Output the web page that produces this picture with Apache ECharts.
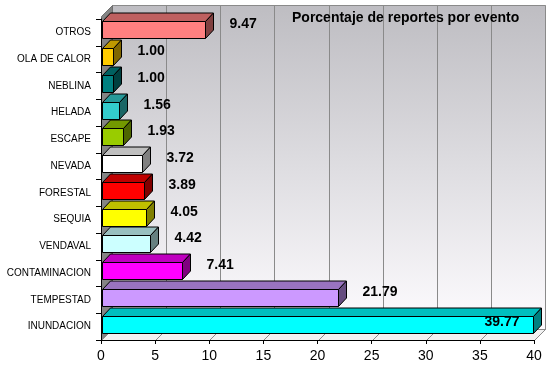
<!DOCTYPE html>
<html><head><meta charset="utf-8">
<script src="https://cdn.jsdelivr.net/npm/echarts@6/dist/echarts.min.js"></script>
<style>html,body{margin:0;padding:0;background:#fff}#c{width:550px;height:372px}</style>
</head><body><div id="c"></div>
<script>
const categories = ['OTROS','OLA DE CALOR','NEBLINA','HELADA','ESCAPE','NEVADA','FORESTAL','SEQUIA','VENDAVAL','CONTAMINACION','TEMPESTAD','INUNDACION'];
const values = [9.47, 1.00, 1.00, 1.56, 1.93, 3.72, 3.89, 4.05, 4.42, 7.41, 21.79, 39.77];
const valueLabels = ['9.47','1.00','1.00','1.56','1.93','3.72','3.89','4.05','4.42','7.41','21.79','39.77'];
const xTicks = [0, 5, 10, 15, 20, 25, 30, 35, 40];
const titleText = 'Porcentaje de reportes por evento';

const barColors = ['#ff8080','#ffcc00','#008080','#33cccc','#99cc00','#ffffff','#ff0000','#ffff00','#ccffff','#ff00ff','#cc99ff','#00ffff'];

function shade(hex, f) {
  const n = parseInt(hex.slice(1), 16);
  const r = Math.round(((n >> 16) & 255) * f), g = Math.round(((n >> 8) & 255) * f), b = Math.round((n & 255) * f);
  return 'rgb(' + r + ',' + g + ',' + b + ')';
}
const px = v => Math.round(v) + 0.5;
const WD = [11, -11];   // wall depth
const BD = [8, -8.5];   // bar depth

const chart = echarts.init(document.getElementById('c'), null, {renderer: 'canvas'});

function frameItem(params, api) {
  const band = api.size([0, 1])[1];
  const xL = px(api.coord([xTicks[0], 0])[0]);
  const xR = px(api.coord([xTicks[xTicks.length - 1], 0])[0]);
  const yT = Math.round(api.coord([0, 0])[1] - band / 2) - 3 + 0.5;
  const yB = px(api.coord([0, categories.length - 1])[1] + band / 2);
  const dx = WD[0], dy = WD[1];
  const children = [];
  children.push({type: 'polygon', shape: {points: [[xL + dx, yT + dy], [xR + dx, yT + dy], [xR + dx, yB + dy], [xL + dx, yB + dy]]},
    style: {fill: new echarts.graphic.LinearGradient(0, 0, 0, 1, [{offset: 0, color: '#bebdc2'}, {offset: 0.5, color: '#dedde1'}, {offset: 1, color: '#fefcff'}]), stroke: '#8a8a8a', lineWidth: 1}});
  children.push({type: 'polygon', shape: {points: [[xL, yT], [xL + dx, yT + dy], [xL + dx, yB + dy], [xL, yB]]},
    style: {fill: '#848484', stroke: '#707070', lineWidth: 1}});
  children.push({type: 'polygon', shape: {points: [[xL, yB], [xR, yB], [xR + dx, yB + dy], [xL + dx, yB + dy]]},
    style: {fill: '#f2f2f2', stroke: '#8a8a8a', lineWidth: 1}});
  xTicks.forEach(t => {
    const x = px(api.coord([t, 0])[0]);
    if (t !== xTicks[0]) {
      children.push({type: 'line', shape: {x1: x + dx, y1: yT + dy, x2: x + dx, y2: yB + dy}, style: {stroke: '#8a8a8a', lineWidth: 1}});
      children.push({type: 'line', shape: {x1: x, y1: yB, x2: x + dx, y2: yB + dy}, style: {stroke: '#8a8a8a', lineWidth: 1}});
    }
  });
  return {type: 'group', children: children};
}

function barItem(params, api) {
  const idx = api.value(0), v = api.value(1);
  const band = api.size([0, 1])[1];
  const c = api.coord([v, idx]);
  const bandTop = c[1] - band / 2;
  const x0 = px(api.coord([0, idx])[0] + 1);
  const x1 = px(c[0] + 1);
  const y0 = px(bandTop + 0.09 * band);
  const y1 = px(bandTop + 0.72 * band);
  const dx = BD[0], dy = BD[1];
  const col = barColors[idx];
  const st = {stroke: '#000', lineWidth: 1};
  const children = [
    {type: 'polygon', shape: {points: [[x0, y0], [x1, y0], [x1 + dx, y0 + dy], [x0 + dx, y0 + dy]]}, style: Object.assign({fill: shade(col, 0.75)}, st)},
    {type: 'polygon', shape: {points: [[x1, y0], [x1 + dx, y0 + dy], [x1 + dx, y1 + dy], [x1, y1]]}, style: Object.assign({fill: shade(col, 0.5)}, st)},
    {type: 'rect', shape: {x: x0, y: y0, width: x1 - x0, height: y1 - y0}, style: Object.assign({fill: col}, st)}
  ];
  const gridRight = api.coord([xTicks[xTicks.length - 1], 0])[0];
  let lx = x1 + dx + 16, align = 'left';
  let ly = bandTop + 5.5;
  if (lx + 34 > gridRight) { lx = x1 - 14; align = 'right'; ly = bandTop + 8.5; }
  children.push({type: 'text', style: {text: valueLabels[idx], x: lx, y: ly, align: align, verticalAlign: 'middle',
    fill: '#000', font: 'bold 14px "Liberation Sans Narrow", "Arial Narrow", "Liberation Sans", Arial, sans-serif'}});
  return {type: 'group', children: children};
}

chart.setOption({
  animation: false,
  backgroundColor: '#fff',
  title: {text: titleText, left: 292, top: 11, padding: 0,
    textStyle: {fontSize: 14, fontWeight: 'bold', color: '#000', fontFamily: '"Liberation Sans", Arial, sans-serif'}},
  grid: {left: 101, right: 16, top: 19, bottom: 32, containLabel: false},
  xAxis: {type: 'value', min: xTicks[0], max: xTicks[xTicks.length - 1], interval: xTicks[1] - xTicks[0], z: 10,
    axisLine: {show: true, lineStyle: {color: '#000', width: 1}},
    axisTick: {show: true, length: 4, lineStyle: {color: '#000'}},
    splitLine: {show: false},
    axisLabel: {fontSize: 14, color: '#000', margin: 9, fontFamily: '"Liberation Sans", Arial, sans-serif'}},
  yAxis: {type: 'category', data: categories, inverse: true, z: 10,
    axisLine: {show: true, lineStyle: {color: '#000', width: 1}},
    axisTick: {show: true, length: 5, lineStyle: {color: '#000'}},
    axisLabel: {fontSize: 10, color: '#000', margin: 10, fontFamily: '"Liberation Sans", Arial, sans-serif'}},
  series: [
    {type: 'custom', z: 1, silent: true, renderItem: frameItem, data: [[0, 0]], encode: {x: 0, y: 1}, clip: false},
    {type: 'custom', z: 3, renderItem: barItem, clip: false,
      data: values.map((v, i) => [i, v]), encode: {y: 0, x: 1}}
  ]
});
</script>
</body></html>
